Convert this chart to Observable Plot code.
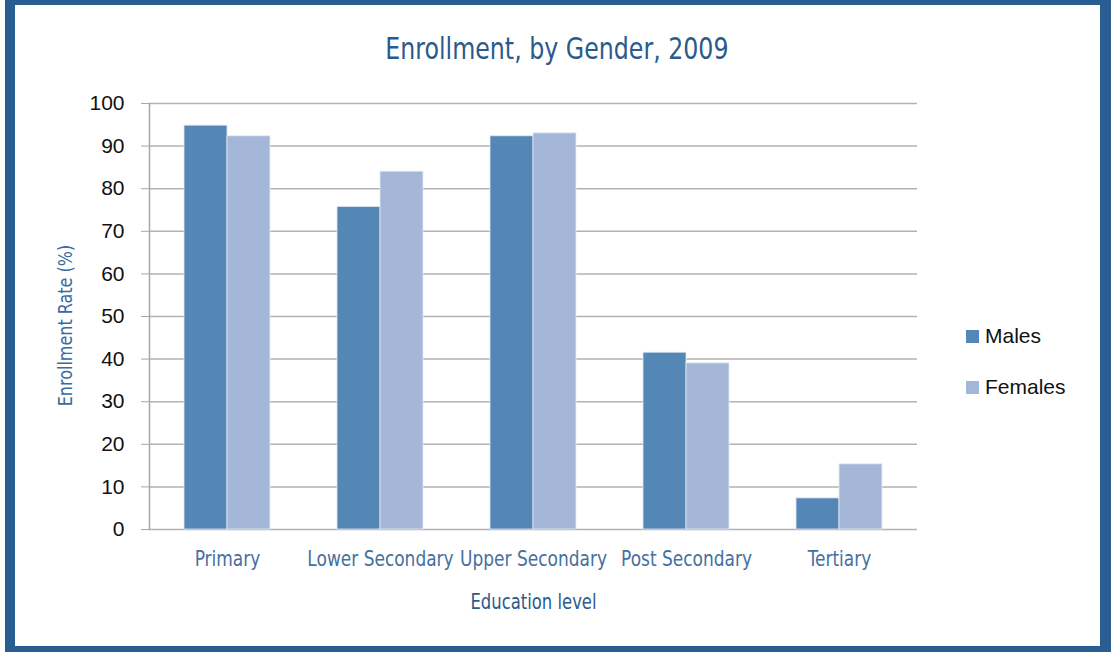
<!DOCTYPE html>
<html>
<head>
<meta charset="utf-8">
<script src="https://cdn.jsdelivr.net/npm/d3@7"></script>
<script src="https://cdn.jsdelivr.net/npm/@observablehq/plot@0.6"></script>
<style>
  html, body { margin: 0; padding: 0; background: #ffffff; }
  body { width: 1113px; height: 652px; position: relative; overflow: hidden; }
  #border { position: absolute; left: 5px; top: -5px; width: 1085px; height: 641px;
            border: 10px solid #2a5e93; border-right-width: 11px; box-sizing: content-box; }
  #title { position: absolute; left: 0; width: 1113px; top: 33px; text-align: center;
           font-family: "DejaVu Sans Condensed", "DejaVu Sans", sans-serif;
           font-size: 31px; color: #2b5a8c; line-height: 1; }
  #title span { display: inline-block; transform: scaleX(0.85); transform-origin: 50% 50%; white-space: nowrap; }
  #chart { position: absolute; left: 0; top: 0; }
  #legend { position: absolute; left: 966px; top: 323px;
            font-family: "Liberation Sans", "Open Sans", sans-serif; font-size: 21px; color: #111; }
  .item { display: flex; align-items: center; height: 26px; margin-bottom: 25px; }
  .sw { width: 13px; height: 13px; margin-right: 6px; }
  g[aria-label="x-axis label"] text, g[aria-label="x-axis label"] { fill: #2b5a8c; }
  g[aria-label="y-axis label"] text, g[aria-label="y-axis label"] { fill: #3a6a9f; }
</style>
</head>
<body>
<div id="border"></div>
<div id="title"><span></span></div>
<div id="chart"></div>
<div id="legend"></div>
<script>
const titleText = "Enrollment, by Gender, 2009";
const categories = ["Primary", "Lower Secondary", "Upper Secondary", "Post Secondary", "Tertiary"];
const males = [94.8, 75.7, 92.3, 41.5, 7.3];
const females = [92.3, 84.0, 93.0, 39.0, 15.3];
const seriesNames = ["Males", "Females"];
const seriesColors = ["#5587b6", "#a4b7d8"];
const yTicks = [0, 10, 20, 30, 40, 50, 60, 70, 80, 90, 100];
const xLabel = "Education level";
const yLabel = "Enrollment Rate (%)";

document.querySelector("#title span").textContent = titleText;

const maleRows = categories.map((c, i) => ({category: c, value: males[i]}));
const femaleRows = categories.map((c, i) => ({category: c, value: females[i]}));

const W = 1113, H = 652;
const condensed = "DejaVu Sans Condensed, DejaVu Sans, sans-serif";
const chart = Plot.plot({
  width: W,
  height: H,
  marginLeft: 149,
  marginRight: 196,
  marginTop: 103,
  marginBottom: 123,
  style: {background: "transparent", overflow: "visible"},
  x: {domain: categories, paddingInner: 0.44, paddingOuter: 0.22},
  y: {domain: [0, 100]},
  marks: [
    Plot.ruleY(yTicks, {stroke: "#b2b2b2", strokeWidth: 1.5}),
    Plot.barY(maleRows, {x: "category", y: "value", fill: seriesColors[0], insetRight: 43, stroke: "#dfe7f2", strokeWidth: 0.8}),
    Plot.barY(femaleRows, {x: "category", y: "value", fill: seriesColors[1], insetLeft: 43, stroke: "#e6ecf6", strokeWidth: 0.8}),
    Plot.frame({anchor: "left", stroke: "#a8a8a8", strokeWidth: 1.5}),
    Plot.axisY({ticks: yTicks, tickSize: 8, tickPadding: 17, stroke: "#a8a8a8",
      fill: "#111", fontSize: 21, fontFamily: "Liberation Sans, Open Sans, sans-serif",
      label: yLabel, labelAnchor: "center", labelOffset: 92, labelArrow: "none"}),
    Plot.axisX({tickSize: 0, tickPadding: 22, fill: "#46709f", fontSize: 21,
      fontFamily: condensed,
      label: xLabel, labelAnchor: "center", labelOffset: 79, labelArrow: "none"})
  ]
});
document.getElementById("chart").appendChild(chart);

function squeeze(selector, k, pre) {
  chart.querySelectorAll(selector).forEach(t => {
    const tr = t.getAttribute("transform") || "";
    t.setAttribute("transform", ((pre || "") + " " + tr + ` scale(${k},1)`).trim());
  });
}
chart.querySelectorAll('g[aria-label="y-axis label"]').forEach(g => {
  g.setAttribute("font-family", condensed);
  g.setAttribute("font-size", "20");
});
chart.querySelectorAll('g[aria-label="x-axis label"]').forEach(g => {
  g.setAttribute("font-family", condensed);
  g.setAttribute("font-size", "21");
});
squeeze('g[aria-label="x-axis tick label"] text', 0.9);
squeeze('g[aria-label="x-axis label"] text', 0.87);
squeeze('g[aria-label="y-axis label"] text', 0.89, "translate(0,9)");

const legend = document.getElementById("legend");
seriesNames.forEach((name, i) => {
  const item = document.createElement("div");
  item.className = "item";
  const sw = document.createElement("div");
  sw.className = "sw";
  sw.style.background = seriesColors[i];
  const t = document.createElement("span");
  t.textContent = name;
  item.appendChild(sw);
  item.appendChild(t);
  legend.appendChild(item);
});
</script>
</body>
</html>
